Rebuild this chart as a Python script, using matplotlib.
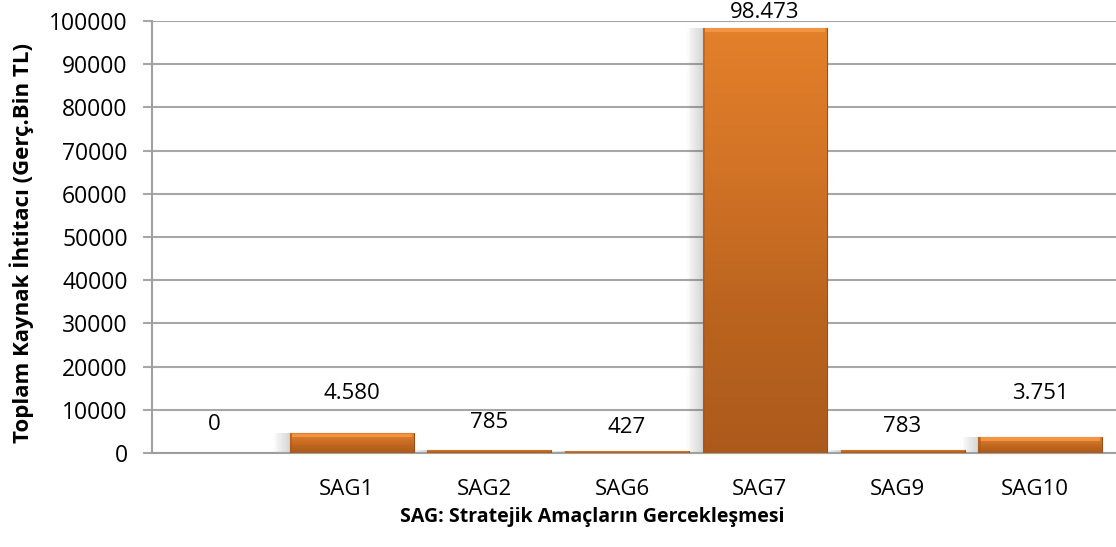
import numpy as np
import matplotlib
matplotlib.use("Agg")
import matplotlib.pyplot as plt
from matplotlib.colors import LinearSegmentedColormap
from matplotlib.patches import Rectangle
from matplotlib.transforms import ScaledTranslation

plt.rcParams['font.family'] = ['Open Sans', 'DejaVu Sans']

# data
categories = ["", "SAG1", "SAG2", "SAG6", "SAG7", "SAG9", "SAG10"]
values = [0, 4580, 785, 427, 98473, 783, 3751]
yticks = np.arange(0, 100001, 10000)

# label lift above bar top, in pixels (Excel placed them by hand)
label_lift = [28, 40, 27, 24, 15, 23, 43]

W, H = 1116, 547
fig = plt.figure(figsize=(W / 100, H / 100), dpi=100)
ax = fig.add_axes([152 / W, 94 / H, 964 / W, 432 / H])

x = np.arange(len(categories))
bars = ax.bar(x, values, width=0.9, color='none', edgecolor='#9a4e17',
              linewidth=0.8, zorder=3)

px = 7.0 / 964          # one pixel in x data units
py = 100000 / 432       # one pixel in y data units

# soft shadow on the left of each bar
for rect, v in zip(bars, values):
    if v <= 0:
        continue
    x0 = rect.get_x()
    for k in range(1, 13):
        ax.add_patch(Rectangle((x0 - k * 1.3 * px, 0), k * 1.3 * px, v,
                               color='#707070', alpha=0.025, lw=0, zorder=2))

# gradient fill like the office bevel style
cmap = LinearSegmentedColormap.from_list(
    'org', ['#ac5a1c', '#bb641f', '#d27326', '#e3802a'])
grad = np.linspace(0, 1, 256).reshape(-1, 1)
for rect, v in zip(bars, values):
    if v <= 0:
        continue
    x0 = rect.get_x()
    w = rect.get_width()
    im = ax.imshow(grad, extent=[x0, x0 + w, 0, v], aspect='auto',
                   cmap=cmap, origin='lower', zorder=3)
    im.set_clip_path(rect)
    if v > 8 * py:
        # light top bevel and darker left edge
        ax.add_patch(Rectangle((x0 + 2 * px, v - 4 * py), w - 4 * px, 3.5 * py,
                               color='#f19443', lw=0, zorder=3.5))
        ax.add_patch(Rectangle((x0, 0), 2.5 * px, v, color='#a5561b',
                               alpha=0.5, lw=0, zorder=3.5))

# value labels
for i, v in enumerate(values):
    txt = f"{v:,}".replace(",", ".")
    ax.annotate(txt, (i, v), xytext=(0, label_lift[i] * 0.72),
                textcoords='offset points', ha='center', va='center',
                fontsize=16, color='#000000', annotation_clip=False,
                zorder=5)

ax.set_xlim(-0.45, 6.55)
ax.set_ylim(0, 100000)
ax.set_yticks(yticks)
ax.set_yticklabels([str(t) for t in yticks])
ax.set_xticks(x)
ax.set_xticklabels(categories)

ax.grid(axis='y', color='#a6a6a6', linewidth=1.5, zorder=0)
ax.set_axisbelow(True)
for s in ['top', 'right']:
    ax.spines[s].set_visible(False)
for s in ['left', 'bottom']:
    ax.spines[s].set_color('#a0a0a0')
    ax.spines[s].set_linewidth(1.5)

ax.tick_params(axis='y', length=6.5, width=1.5, color='#a6a6a6',
               labelsize=16.5, pad=11)
ax.tick_params(axis='x', length=0, labelsize=16, pad=19)
for lab in ax.get_xticklabels():
    lab.set_transform(lab.get_transform() + ScaledTranslation(-5 / 100, 0, fig.dpi_scale_trans))

fig.text(592 / W, 1 - 517 / H, "SAG: Stratejik Amaçların Gercekleşmesi",
         ha='center', va='center', fontsize=14, fontweight='bold')
fig.text(22 / W, 1 - 243 / H, "Toplam Kaynak İhtitacı (Gerç.Bin TL)",
         ha='center', va='center', rotation=90, fontsize=16, fontweight='bold')

fig.savefig("out.png", dpi=100)
